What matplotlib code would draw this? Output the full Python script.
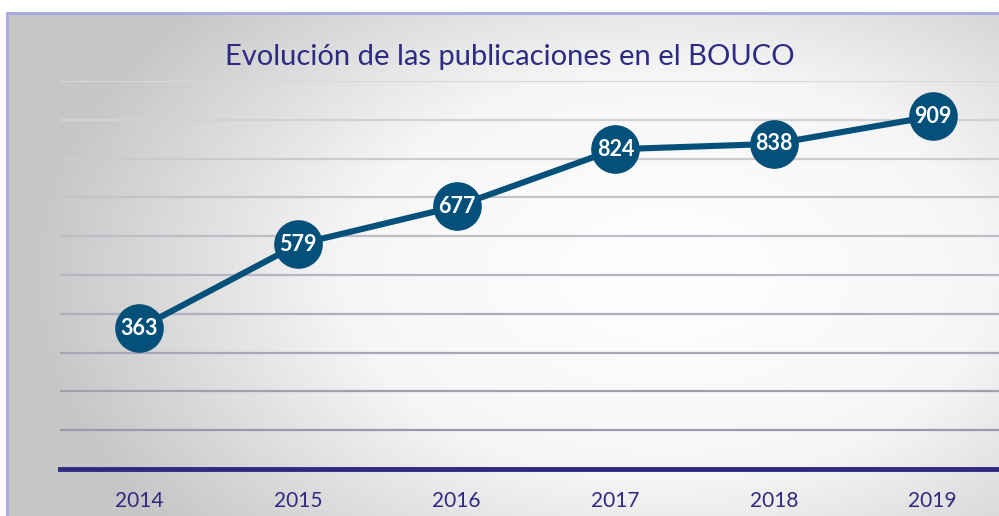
import numpy as np
import matplotlib
matplotlib.use("Agg")
import matplotlib.pyplot as plt
from matplotlib.colors import LinearSegmentedColormap

years = ["2014", "2015", "2016", "2017", "2018", "2019"]
publicaciones = [363, 579, 677, 824, 838, 909]
grid_ticks = list(range(100, 1001, 100))

title = "Evolución de las publicaciones en el BOUCO"
line_color = "#03507a"
text_color = "#2e2a82"

plt.rcParams['font.family'] = ['Lato', 'DejaVu Sans']

fig = plt.figure(figsize=(9.99, 5.16), dpi=100)
fig.patch.set_facecolor("white")

# background panel with radial gradient
bg = fig.add_axes([7 / 999, 0, 1.0, (516 - 13) / 516])
bg.set_zorder(0)
ny, nx = 300, 600
yy, xx = np.mgrid[0:ny, 0:nx]
cx, cy = 0.66 * nx, 0.52 * ny
d = np.sqrt(((xx - cx) / (0.64 * nx)) ** 2 + ((yy - cy) / (0.8 * ny)) ** 2)
d = np.clip(d, 0, 1)
cmap = LinearSegmentedColormap.from_list("bg", ["#ffffff", "#f6f6f6", "#c6c6c6"])
bg.imshow(d, cmap=cmap, aspect="auto", extent=[0, 1, 0, 1], vmin=0, vmax=1)
bg.set_xlim(0, 1)
bg.set_ylim(0, 1)
bg.set_xticks([])
bg.set_yticks([])
for s in ["right", "bottom"]:
    bg.spines[s].set_visible(False)
for s in ["left", "top"]:
    bg.spines[s].set_color("#a8a8e2")
    bg.spines[s].set_linewidth(2)

ax = fig.add_axes([60 / 999, (516 - 469) / 516, (1012 - 60) / 999, (469 - 81) / 516])
ax.set_zorder(1)
ax.patch.set_alpha(0)
x = np.arange(len(years))
ax.set_xlim(-0.5, len(years) - 0.5)
ax.set_ylim(0, 1000)

grid_cols = LinearSegmentedColormap.from_list(
    "g", ["#d8d8dc", "#9c98ac"])(np.linspace(0, 1, len(grid_ticks)))
for t, c in zip(grid_ticks[::-1], grid_cols):
    ax.axhline(t, color=c, lw=1.6, zorder=1)

ax.plot(x, publicaciones, color=line_color, lw=4.4, zorder=2,
        marker="o", markersize=34, markerfacecolor=line_color,
        markeredgecolor=line_color, solid_capstyle="round")
for xi, v in zip(x, publicaciones):
    ax.text(xi, v, str(v), ha="center", va="center", color="white",
            fontsize=15.5, fontweight="bold", zorder=3)

for s in ["left", "right", "top"]:
    ax.spines[s].set_visible(False)
ax.spines["bottom"].set_color("#2e2a82")
ax.spines["bottom"].set_linewidth(3.5)
ax.set_yticks([])
ax.set_xticks(x)
ax.set_xticklabels(years, color=text_color, fontsize=15)
ax.tick_params(axis="x", length=0, pad=16)

fig.text(510 / 999, 1 - 57 / 516, title, ha="center", va="center",
         color=text_color, fontsize=21)

fig.savefig("out.png", dpi=100)
